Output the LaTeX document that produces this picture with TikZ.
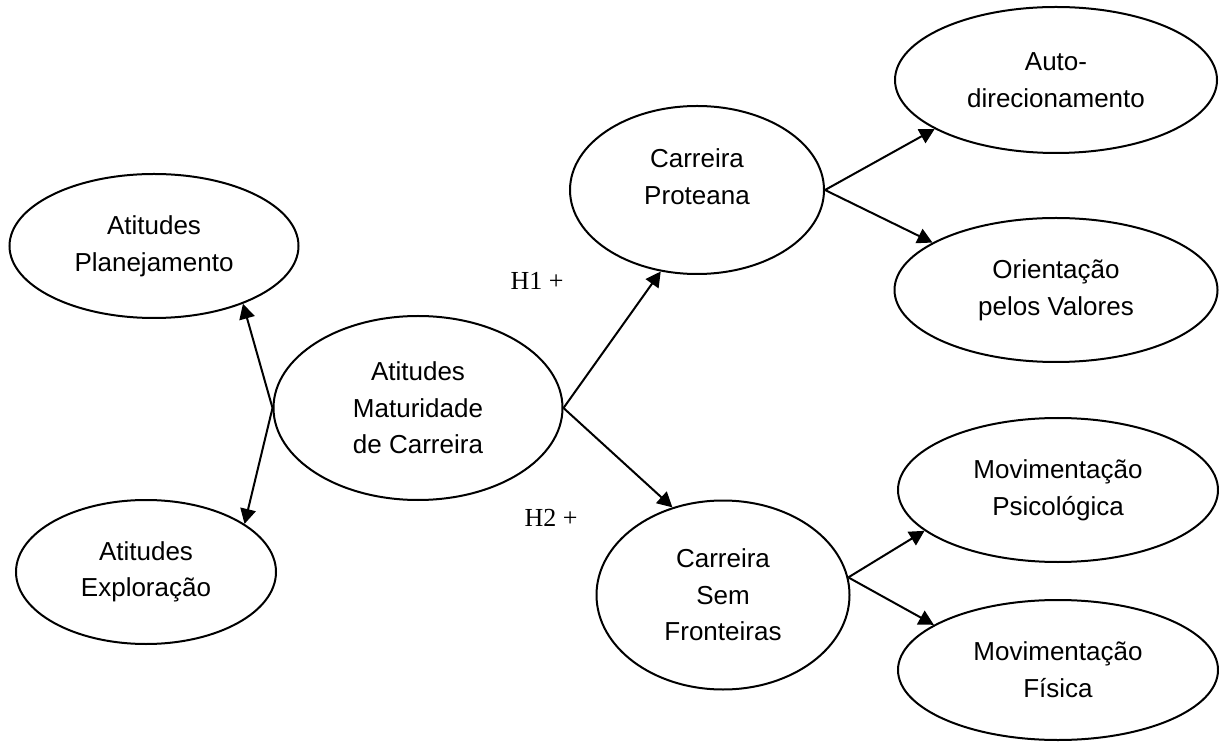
\documentclass[tikz,border=0pt]{standalone}
\usepackage{fontspec}
\setmainfont{Liberation Sans}
\newfontfamily\hfont{Liberation Serif}
\usetikzlibrary{arrows.meta,shapes.geometric}
\begin{document}
\begin{tikzpicture}[x=0.5pt,y=-0.5pt,
  ell/.style={draw,ellipse,line width=1pt,inner sep=0pt,align=center,
    font=\fontsize{13pt}{18.3pt}\selectfont},
  conn/.style={line width=1pt,-{Triangle[length=7.5pt,width=7.8pt]}},
  hyp/.style={font=\hfont\fontsize{13pt}{15pt}\selectfont,inner sep=0pt}]
\useasboundingbox (0,0) rectangle (1219,742);
\node[ell,minimum width=144.5pt,minimum height=72pt] (plan) at (154,246) {Atitudes\\Planejamento};
\node[ell,minimum width=130pt,minimum height=72pt] (expl) at (146,572) {Atitudes\\Exploração};
\node[ell,minimum width=144.5pt,minimum height=92pt] (mat) at (418,408) {Atitudes\\Maturidade\\de Carreira};
\node[ell,minimum width=127pt,minimum height=84pt,
  label={[align=center,font=\fontsize{13pt}{18.3pt}\selectfont,yshift=6.5pt]center:{Carreira\\Proteana}}] (prot) at (697,190) {};
\node[ell,minimum width=126.5pt,minimum height=94.5pt] (sf) at (723,595) {Carreira\\Sem\\Fronteiras};
\node[ell,minimum width=161pt,minimum height=73pt] (auto) at (1056,80) {Auto-\\direcionamento};
\node[ell,minimum width=161.5pt,minimum height=72pt] (orie) at (1056,290) {Orientação\\pelos Valores};
\node[ell,minimum width=160pt,minimum height=72pt] (psic) at (1058,490) {Movimentação\\Psicológica};
\node[ell,minimum width=160pt,minimum height=70pt] (fis) at (1058,670) {Movimentação\\Física};
\node[hyp] (h1) at (537,281) {H1 +};
\node[hyp] (h2) at (551,518) {H2 +};
\draw[conn] (mat.west) -- (plan.-33);
\draw[conn] (mat.west) -- (expl.26);
\draw[conn] (mat.east) -- (prot.-114);
\draw[conn] (mat.east) -- (sf.120);
\draw[conn] (prot.east) -- (auto.-158);
\draw[conn] (prot.east) -- (orie.159);
\draw[conn] (sf.8) -- (psic.-163);
\draw[conn] (sf.8) -- (fis.160);
\end{tikzpicture}
\end{document}
